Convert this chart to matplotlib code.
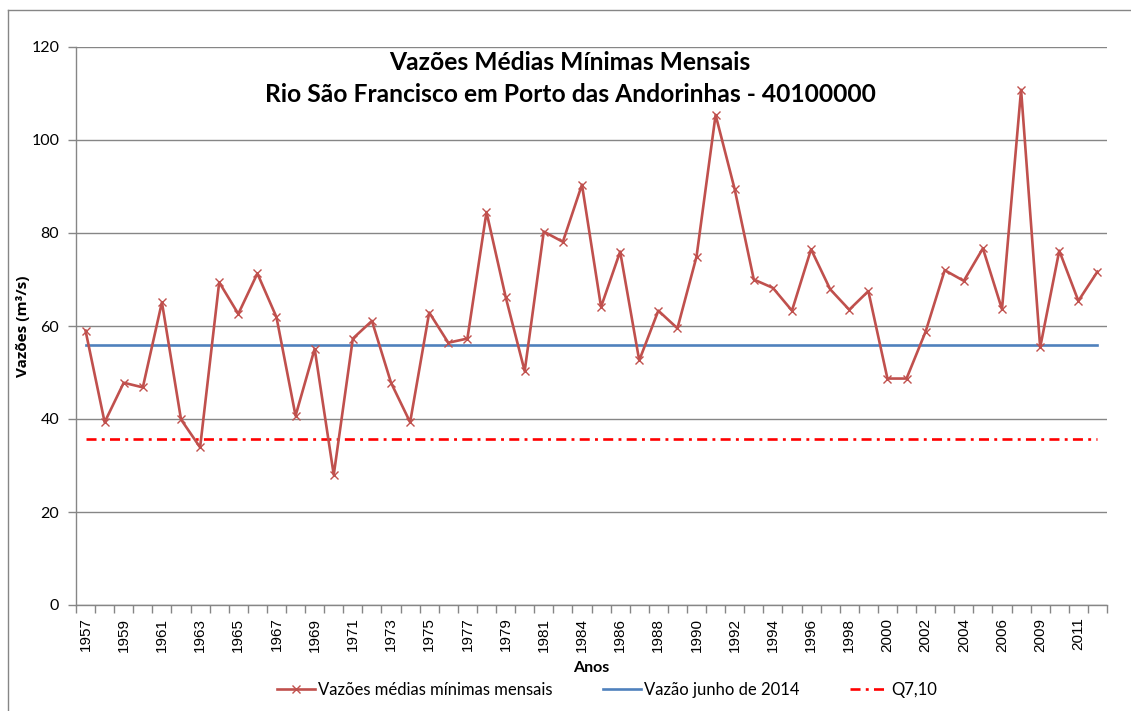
import numpy as np
import matplotlib
matplotlib.use('Agg')
import matplotlib.pyplot as plt
from matplotlib.lines import Line2D

# anos com dados (faltam 1982 e 2007 na serie)
anos = list(range(1957, 1982)) + [1983] + list(range(1984, 2007)) + [2008] + list(range(2009, 2013))
vazoes_minimas = [59.0, 39.3, 47.8, 46.8, 65.1, 39.9, 33.9, 69.4, 62.6, 71.3,
                  61.9, 40.7, 55.1, 28.0, 57.3, 61.1, 47.8, 39.3, 62.9, 56.4,
                  57.3, 84.5, 66.3, 50.3, 80.3, 78.1, 90.4, 64.1, 76.0, 52.6,
                  63.3, 59.5, 74.9, 105.4, 89.4, 70.0, 68.2, 63.3, 76.5, 67.9,
                  63.5, 67.5, 48.7, 48.7, 58.8, 72.0, 69.7, 76.7, 63.6, 110.8,
                  55.4, 76.2, 65.4, 71.7]
vazao_junho_2014 = 56.0
q7_10 = 35.8

serie_labels = ['Vazões médias mínimas mensais', 'Vazão junho de 2014', 'Q7,10']
y_ticks = [0, 20, 40, 60, 80, 100, 120]

W, H = 1131, 711
grid_color = '#868686'
txt_font = ['Lato', 'DejaVu Sans']

fig = plt.figure(figsize=(W / 100.0, H / 100.0), dpi=100)
ax = fig.add_axes([76.0 / W, 1 - 605.0 / H, (1107.0 - 76) / W, (605.0 - 47) / H])

x = np.arange(len(anos))
ax.plot(x, vazoes_minimas, color='#C0504D', lw=1.9, marker='x', ms=6,
        mew=1.0, mec='#C0504D', label=serie_labels[0], zorder=4)
ax.plot(x, [vazao_junho_2014] * len(x), color='#4F81BD', lw=1.9,
        label=serie_labels[1], zorder=3)
ax.plot(x, [q7_10] * len(x), color='#FF0000', lw=1.9,
        dashes=(3.8, 2.0, 1.1, 2.0), label=serie_labels[2], zorder=3)

ax.set_xlim(-0.5, len(anos) - 0.5)
ax.set_ylim(0, 120)
ax.set_yticks(y_ticks)
ax.set_yticklabels([str(v) for v in y_ticks], fontsize=11.5, family=txt_font)
ax.yaxis.grid(True, color=grid_color, lw=1.0)
ax.set_axisbelow(True)

ax.set_xticks(x[::2])
ax.set_xticklabels([str(a) for a in anos[::2]], rotation=90, fontsize=11,
                   family=['Liberation Sans'])
ax.set_xticks(np.arange(-0.5, len(anos)), minor=True)
ax.tick_params(axis='x', which='major', length=0, pad=9)
ax.tick_params(axis='x', which='minor', length=6, color=grid_color, width=1)
ax.tick_params(axis='y', length=6, color=grid_color, width=1, pad=6)

for sp in ['top', 'right']:
    ax.spines[sp].set_visible(False)
for sp in ['left', 'bottom']:
    ax.spines[sp].set_color(grid_color)
    ax.spines[sp].set_linewidth(1.0)

ax.set_xlabel('Anos', fontsize=11.5, fontweight='bold', family=txt_font)
ax.set_ylabel('Vazões (m³/s)', fontsize=11, fontweight='bold',
              family=['Open Sans', 'DejaVu Sans'])
ax.yaxis.set_label_coords(-46.0 / (1107 - 76), 0.5)
ax.xaxis.set_label_coords(0.5, -(661.0 - 605) / (605 - 47))

fig.text(570.0 / W, 1 - 63.0 / H, 'Vazões Médias Mínimas Mensais', ha='center',
         va='center', fontsize=17.7, fontweight='bold', family=txt_font)
fig.text(570.0 / W, 1 - 95.0 / H, 'Rio São Francisco em Porto das Andorinhas - 40100000',
         ha='center', va='center', fontsize=17.7, fontweight='bold', family=txt_font)

leg = fig.legend(loc='center', bbox_to_anchor=(607.0 / W, 1 - 690.0 / H), ncol=3,
                 frameon=False, handlelength=2.3, handletextpad=0.2,
                 columnspacing=3.0, prop={'family': txt_font, 'size': 12})

# borda da area do grafico
fig.add_artist(Line2D([8.0 / W, 8.0 / W], [0, 1 - 10.0 / H], color=grid_color, lw=1.0))
fig.add_artist(Line2D([8.0 / W, 1], [1 - 10.0 / H, 1 - 10.0 / H], color=grid_color, lw=1.0))

fig.savefig('out.png', dpi=100)
